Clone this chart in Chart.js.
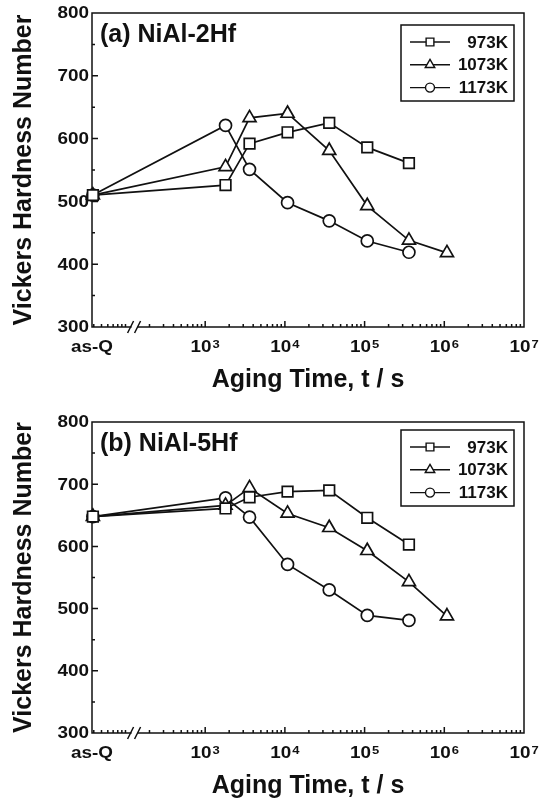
<!DOCTYPE html>
<html>
<head>
<meta charset="utf-8">
<script src="https://cdn.jsdelivr.net/npm/chart.js@4.4.1/dist/chart.umd.min.js"></script>
<style>
  html, body { margin: 0; padding: 0; background: #fff; }
  canvas { display: block; }
</style>
</head>
<body>
<canvas id="chartA" width="544" height="403"></canvas>
<canvas id="chartB" width="544" height="403"></canvas>
<script>
// Aging time in seconds. The as-quenched state is put at the left end of the log axis.
const xMin = 38;
const xMax = 1e7;
const asQ = 39;
const agingTimes = [asQ, 1.8e3, 3.6e3, 1.08e4, 3.6e4, 1.08e5, 3.6e5];
const agingTimesLong = [asQ, 1.8e3, 3.6e3, 1.08e4, 3.6e4, 1.08e5, 3.6e5, 1.08e6];

const temperatures = ["973K", "1073K", "1173K"];

// (a) NiAl-2Hf, Vickers hardness
const hv2Hf973 = [510, 526, 592, 610, 625, 586, 561];
const hv2Hf1073 = [510, 555, 633, 640, 581, 493, 438, 418];
const hv2Hf1173 = [510, 621, 551, 498, 469, 437, 419];

// (b) NiAl-5Hf, Vickers hardness
const hv5Hf973 = [648, 661, 679, 688, 690, 646, 603];
const hv5Hf1073 = [648, 666, 694, 653, 630, 593, 543, 488];
const hv5Hf1173 = [648, 678, 647, 571, 530, 489, 481];

// x tick labels: "as-Q" at the left end, then powers of ten (base, exponent)
const xTickValues = [xMin, 1e3, 1e4, 1e5, 1e6, 1e7];
const xTickBases = ["as-Q", "10", "10", "10", "10", "10"];
const xTickExps = ["", "3", "4", "5", "6", "7"];
const yTickValues = [300, 400, 500, 600, 700, 800];
const yMin = 300;
const yMax = 800;
const breakAt = 130;

const FONT = "'Liberation Sans', Arial, sans-serif";
const INK = "#111";
const STRETCH = 1.18; // tick lettering in the original is wide

const markerStyles = [
  { pointStyle: "rect", radius: 7.5, legendRadius: 5.5 },
  { pointStyle: "triangle", radius: 7.5, legendRadius: 5.5 },
  { pointStyle: "circle", radius: 6, legendRadius: 4.5 },
];

function toPoints(times, values) {
  return times.map((t, i) => ({ x: t, y: values[i] }));
}

function wideText(ctx, text, x, y, align) {
  ctx.save();
  ctx.translate(x, y);
  ctx.scale(STRETCH, 1);
  ctx.textAlign = align;
  ctx.fillText(text, 0, 0);
  ctx.restore();
}

const panelPlugin = {
  id: "panel",
  beforeDatasetsDraw(chart) {
    const { ctx, chartArea: a, scales: { x, y } } = chart;
    ctx.save();
    ctx.strokeStyle = INK;
    ctx.lineWidth = 1.5;
    ctx.strokeRect(a.left, a.top, a.right - a.left, a.bottom - a.top);

    // inward tick marks
    ctx.beginPath();
    for (let v = yMin + 50; v < yMax; v += 50) {
      const py = y.getPixelForValue(v);
      const len = v % 100 === 0 ? 6 : 3;
      ctx.moveTo(a.left, py);
      ctx.lineTo(a.left + len, py);
    }
    for (let e = 1; e < 7; e++) {
      for (let m = 1; m < 10; m++) {
        const v = m * Math.pow(10, e);
        if (v <= xMin || v >= xMax) continue;
        const px = x.getPixelForValue(v);
        const len = m === 1 && e >= 3 ? 6 : 3;
        ctx.moveTo(px, a.bottom);
        ctx.lineTo(px, a.bottom - len);
      }
    }
    ctx.stroke();

    // axis break
    const bx = x.getPixelForValue(breakAt);
    ctx.fillStyle = "#fff";
    ctx.fillRect(bx - 3, a.bottom - 3, 6, 6);
    ctx.beginPath();
    ctx.moveTo(bx - 7, a.bottom + 6);
    ctx.lineTo(bx - 1, a.bottom - 6);
    ctx.moveTo(bx, a.bottom + 6);
    ctx.lineTo(bx + 6, a.bottom - 6);
    ctx.stroke();

    // tick labels
    ctx.fillStyle = INK;
    ctx.textBaseline = "middle";
    ctx.font = `bold 16px ${FONT}`;
    yTickValues.forEach((v) => {
      wideText(ctx, String(v), a.left - 3, y.getPixelForValue(v) + 1, "right");
    });
    const ly = a.bottom + 21;
    xTickValues.forEach((v, i) => {
      const px = x.getPixelForValue(v);
      ctx.font = `bold 16px ${FONT}`;
      const wb = ctx.measureText(xTickBases[i]).width * STRETCH;
      ctx.font = `bold 11px ${FONT}`;
      const we = xTickExps[i] ? ctx.measureText(xTickExps[i]).width * STRETCH + 1 : 0;
      const left = px - (wb + we) / 2;
      ctx.font = `bold 16px ${FONT}`;
      wideText(ctx, xTickBases[i], left, ly, "left");
      if (xTickExps[i]) {
        ctx.font = `bold 11px ${FONT}`;
        wideText(ctx, xTickExps[i], left + wb + 1, ly - 3, "left");
      }
    });
    ctx.restore();
  },
  afterDatasetsDraw(chart, args, opts) {
    const { ctx, chartArea: a } = chart;
    ctx.save();

    // panel label
    ctx.fillStyle = INK;
    ctx.font = `bold 25px ${FONT}`;
    ctx.textBaseline = "middle";
    ctx.textAlign = "left";
    ctx.fillText(opts.label, a.left + 8, a.top + 22);

    // legend box
    const boxW = 113, boxH = 76;
    const bx = a.right - 10 - boxW;
    const by = a.top + opts.legendTop;
    ctx.fillStyle = "#fff";
    ctx.fillRect(bx, by, boxW, boxH);
    ctx.strokeStyle = INK;
    ctx.lineWidth = 1.5;
    ctx.strokeRect(bx, by, boxW, boxH);

    chart.data.datasets.forEach((ds, i) => {
      const ry = by + 17 + i * 22.8;
      ctx.strokeStyle = INK;
      ctx.lineWidth = 1.4;
      ctx.beginPath();
      ctx.moveTo(bx + 9, ry);
      ctx.lineTo(bx + 49, ry);
      ctx.stroke();
      ctx.fillStyle = "#fff";
      Chart.helpers.drawPoint(ctx, {
        pointStyle: markerStyles[i].pointStyle,
        radius: markerStyles[i].legendRadius,
        rotation: 0,
        borderWidth: 1.4,
      }, bx + 29, ry);
      ctx.fillStyle = INK;
      ctx.font = `bold 17px ${FONT}`;
      ctx.textAlign = "right";
      ctx.textBaseline = "middle";
      ctx.fillText(ds.label, bx + boxW - 6, ry + 1);
    });
    ctx.restore();
  },
};

function makePanel(canvasId, label, series, padTop, padBottom, legendTop) {
  return new Chart(document.getElementById(canvasId), {
    type: "line",
    data: {
      datasets: series.map((s, i) => ({
        label: temperatures[i],
        data: s,
        borderColor: INK,
        borderWidth: 1.7,
        pointStyle: markerStyles[i].pointStyle,
        pointRadius: markerStyles[i].radius,
        pointHoverRadius: markerStyles[i].radius,
        pointBackgroundColor: "#fff",
        pointBorderColor: INK,
        pointBorderWidth: 1.7,
        tension: 0,
        clip: false,
      })),
    },
    options: {
      responsive: false,
      animation: false,
      devicePixelRatio: 1,
      events: [],
      layout: { padding: { top: padTop, right: 20, bottom: padBottom, left: 0 } },
      plugins: {
        legend: { display: false },
        tooltip: { enabled: false },
        panel: { label, legendTop },
      },
      scales: {
        x: {
          type: "logarithmic",
          min: xMin,
          max: xMax,
          afterFit: (scale) => { scale.height = 70; },
          border: { display: false },
          grid: { display: false, drawTicks: false },
          ticks: { display: false },
          title: {
            display: true,
            text: "Aging Time, t / s",
            color: INK,
            font: { family: FONT, size: 25, weight: "bold" },
            padding: { top: 0, bottom: 2 },
          },
        },
        y: {
          min: yMin,
          max: yMax,
          afterFit: (scale) => { scale.width = 92; },
          border: { display: false },
          grid: { display: false, drawTicks: false },
          ticks: { display: false, stepSize: 100 },
          title: {
            display: true,
            text: "Vickers Hardness Number",
            color: INK,
            font: { family: FONT, size: 25, weight: "bold" },
            padding: { top: 9, bottom: 0 },
          },
        },
      },
    },
    plugins: [panelPlugin],
  });
}

makePanel("chartA", "(a) NiAl-2Hf", [
  toPoints(agingTimes, hv2Hf973),
  toPoints(agingTimesLong, hv2Hf1073),
  toPoints(agingTimes, hv2Hf1173),
], 13, 6, 12);

makePanel("chartB", "(b) NiAl-5Hf", [
  toPoints(agingTimes, hv5Hf973),
  toPoints(agingTimesLong, hv5Hf1073),
  toPoints(agingTimes, hv5Hf1173),
], 19, 3, 8);
</script>
</body>
</html>
